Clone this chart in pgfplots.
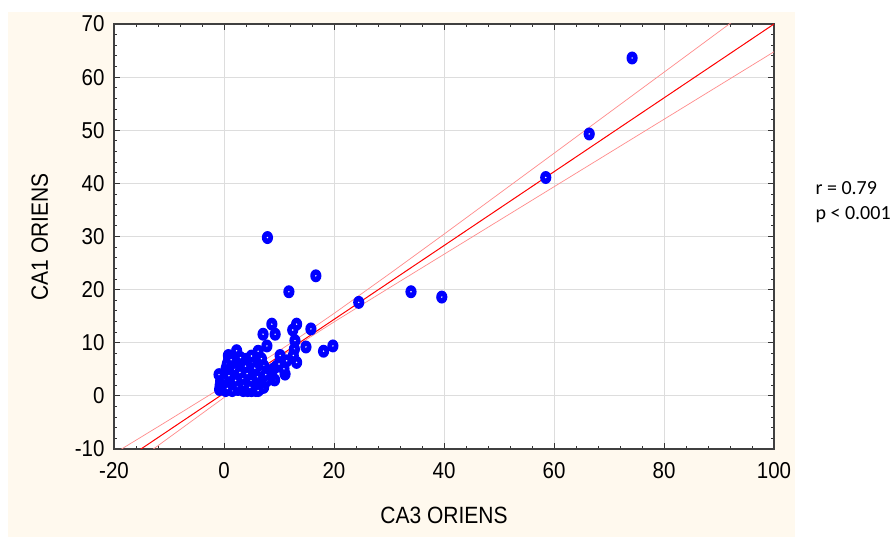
\documentclass[border=0pt]{standalone}
\usepackage{fontspec}
\setmainfont{Liberation Sans}
\newfontfamily\calibri{Carlito}
\usepackage{pgfplots}
\pgfplotsset{compat=1.18}

\definecolor{cream}{RGB}{255,249,238}
\definecolor{gridgray}{RGB}{221,221,221}
\definecolor{bandred}{RGB}{255,140,140}

% filled blue ellipse with a small white centre, as in the original
\pgfdeclareplotmark{bluedot}{%
  \pgfpathellipse{\pgfpointorigin}{\pgfpoint{5.6pt}{0pt}}{\pgfpoint{0pt}{6.5pt}}%
  \pgfsetfillcolor{blue}\pgfusepathqfill
  \pgfpathcircle{\pgfpointorigin}{0.8pt}%
  \pgfsetfillcolor{white}\pgfusepathqfill
}
\newcommand{\tall}[1]{\scalebox{1}[1.12]{#1}}

\begin{document}
\begin{tikzpicture}
\path[use as bounding box] (-114pt,-91pt) rectangle (782pt,449pt);
\fill[cream] (-106pt,-88pt) rectangle (681pt,437pt);
\begin{axis}[
    scale only axis,
    width=660pt, height=425pt,
    xmin=-20, xmax=100, ymin=-10, ymax=70,
    xtick={-20,0,...,100},
    xticklabels={\tall{-20},\tall{0},\tall{20},\tall{40},\tall{60},\tall{80},\tall{100}},
    ytick={-10,0,...,70},
    yticklabels={\tall{-10},\tall{0},\tall{10},\tall{20},\tall{30},\tall{40},\tall{50},\tall{60},\tall{70}},
    minor x tick num=4, minor y tick num=4,
    tick align=inside,
    major tick length=6pt, minor tick length=3pt,
    every tick/.style={black!80, line width=0.8pt},
    axis line style={black!75, line width=1.2pt},
    axis background/.style={fill=white},
    grid=major,
    major grid style={gridgray, line width=0.8pt},
    ticklabel style={font=\fontsize{20.5}{24}\selectfont},
    yticklabel style={xshift=-6pt},
    xticklabel style={yshift=-10pt},
    clip=true,
]
% regression line
\addplot[red, line width=1pt] coordinates {(-20,-13.41) (100,69.99)};
% confidence bands
\addplot[bandred, line width=0.7pt] coordinates {
  (-20,-10.87) (-10,-4.55) (0,1.85) (10,8.47) (13,10.53) (20,15.51)
  (30,22.91) (40,30.44) (60,45.66) (80,60.92) (100,76.21)};
\addplot[bandred, line width=0.7pt] coordinates {
  (-20,-15.40) (-10,-7.86) (0,-0.32) (10,7.15) (13,9.30) (20,13.91)
  (30,20.30) (40,26.65) (60,39.36) (80,52.06) (100,64.77)};
% observations
\addplot[only marks, mark=bluedot] coordinates {
  (74.2,63.6) (66.4,49.3) (58.5,41.1)
  (7.9,29.8) (16.7,22.6) (11.8,19.6) (24.5,17.6) (34.0,19.6) (39.6,18.6)
  (13.2,13.5) (12.5,12.4) (15.8,12.6) (14.9,9.2) (18.1,8.4) (19.8,9.4)
  (13.2,6.3) (11.1,4.1) (12.9,10.4) (12.8,8.8) (12.6,7.6) (10.2,5.7) (11.4,6.6)
  (10.9,5.1) (10.2,7.6)
  (8.7,13.5) (7.1,11.6) (9.3,11.6) (7.8,9.4) (6.2,8.4) (2.3,8.5) (0.8,7.6)
  (4.1,6.9) (0.8,6.6)
  (-0.8,1.2) (-0.7,2.0) (-0.6,2.8) (-0.5,3.6) (-0.9,4.0) (-0.3,1.5) (0.0,2.4)
  (0.1,3.2) (0.2,4.4) (0.4,5.2) (0.3,1.0) (0.6,6.0) (0.5,2.0)
  (1.0,1.5) (1.2,3.0) (1.5,4.2) (1.4,5.5) (1.8,6.2) (2.0,2.2) (2.2,3.6)
  (2.5,1.2) (2.6,4.8) (2.8,6.0) (3.0,2.8) (3.1,3.9) (3.3,5.3) (3.5,1.0)
  (3.6,2.0) (3.8,4.5) (4.0,6.2) (4.1,3.2) (4.3,1.0) (4.5,2.4) (4.6,5.0)
  (4.8,3.8) (5.0,1.0) (5.2,6.2) (5.3,2.1) (5.5,4.3) (5.7,3.0) (5.8,1.0)
  (6.0,5.4) (6.3,2.3) (6.5,4.0) (6.5,1.3) (7.0,3.2) (7.2,5.7) (7.2,1.6)
  (7.5,2.6) (8.0,3.3) (8.4,4.4) (8.9,5.0) (9.5,5.5) (10.0,6.0) (9.2,3.0)
  (8.4,3.2) (7.8,2.9) (6.8,7.0) (5.0,7.5) (3.0,7.2) (1.5,1.0) (2.0,5.0)
  (0.9,3.8) (1.7,2.6) (2.4,1.8) (3.4,3.3) (4.2,4.2) (4.9,2.8) (5.6,5.2)
  (6.1,3.6) (6.8,4.6) (7.6,4.0) (3.9,5.6) (2.9,4.4) (1.3,6.8) (5.4,1.6)
  (6.2,1.0) (4.7,1.6) (2.1,2.9) (0.6,1.4)
};
\end{axis}
\node[font=\fontsize{21}{24}\selectfont, anchor=base] at (330pt,-75pt) {\tall{CA3 ORIENS}};
\node[font=\fontsize{21}{24}\selectfont, anchor=base, rotate=90] at (-66pt,212pt) {\tall{CA1 ORIENS}};
\node[font=\calibri\fontsize{20}{24}\selectfont, anchor=base west] at (698pt,254pt) {r = 0.79};
\node[font=\calibri\fontsize{20}{24}\selectfont, anchor=base west] at (698pt,229pt) {p < 0.001};
\end{tikzpicture}
\end{document}
